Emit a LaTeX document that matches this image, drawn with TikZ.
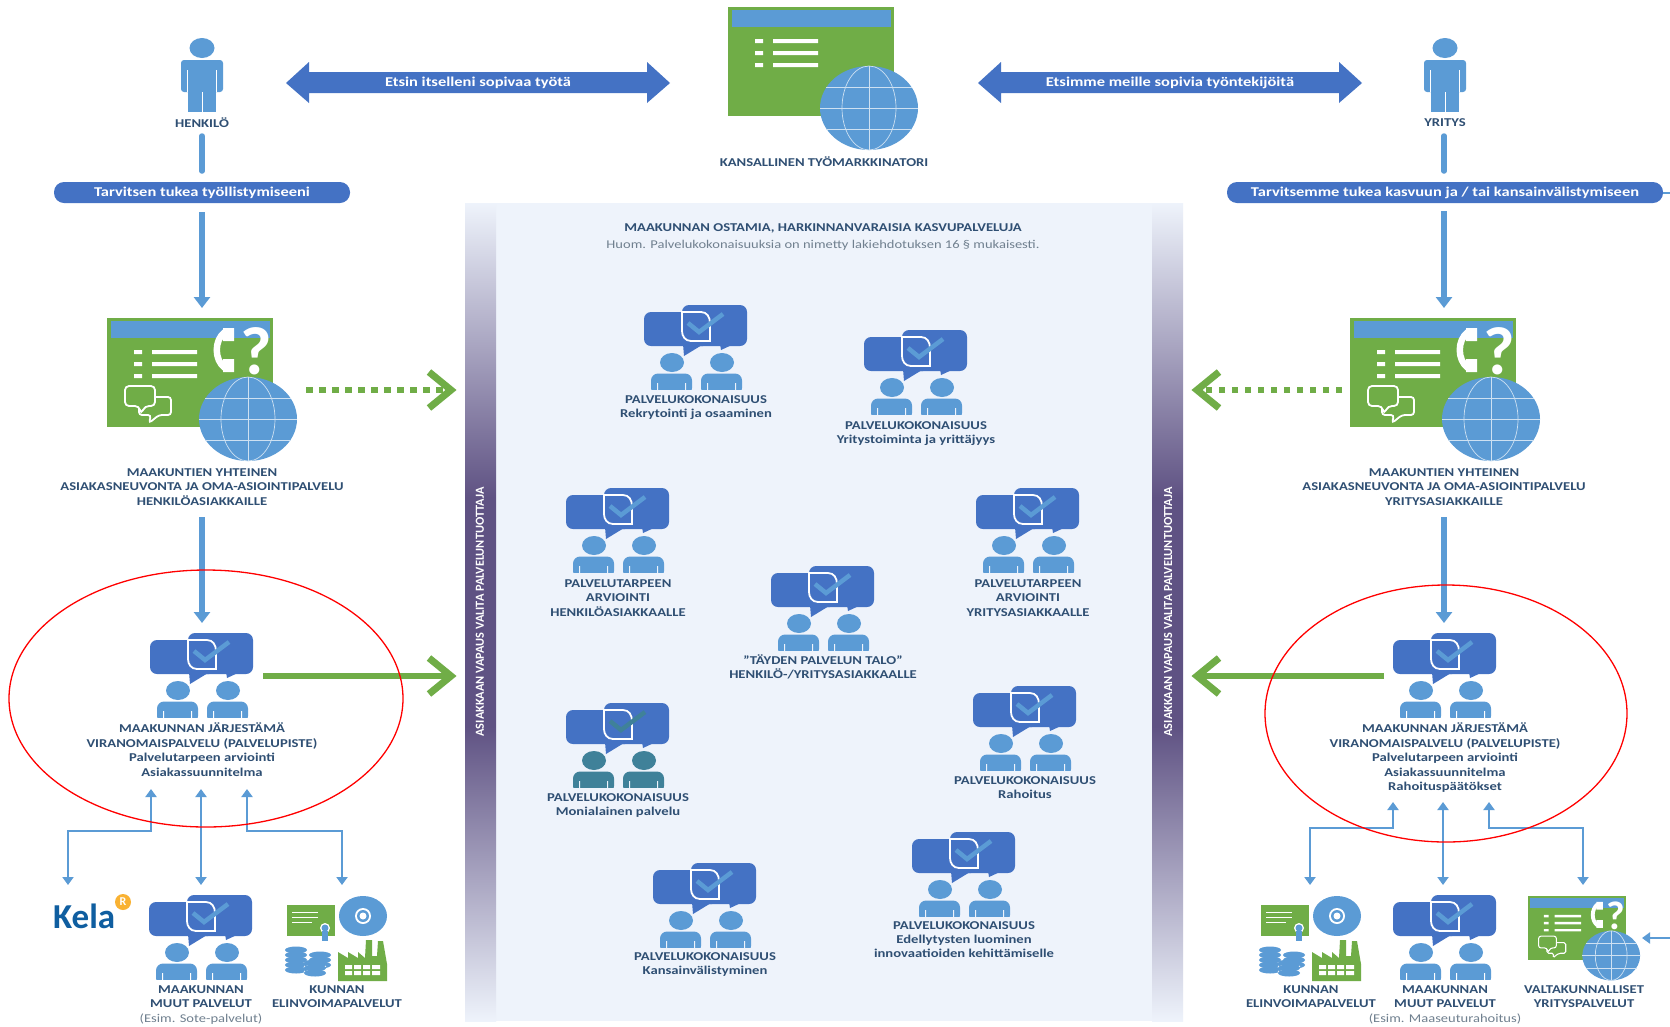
\documentclass[tikz,border=0pt]{standalone}
\usepackage{fontspec}
\setmainfont[FakeStretch=1.22]{Carlito}
\newfontfamily\basefont{Carlito}
\usetikzlibrary{arrows.meta,shapes.geometric,calc}
\definecolor{bluedark}{HTML}{4472C4}
\definecolor{bluelight}{HTML}{5B9BD5}
\definecolor{greenbox}{HTML}{70AD47}
\definecolor{txt}{HTML}{2F4F73}
\definecolor{txtgrey}{HTML}{70808F}
\definecolor{panel}{HTML}{EEF3FB}
\definecolor{purp}{HTML}{5F5283}
\definecolor{bandlight}{HTML}{EEF3FB}
\definecolor{pdark}{HTML}{3F8199}
\definecolor{kelablue}{HTML}{0F5EA0}
\definecolor{kelaorange}{HTML}{F9B233}
\pgfdeclareverticalshading{bandshade}{100bp}{color(0bp)=(bandlight); color(25bp)=(bandlight); color(43bp)=(purp); color(57bp)=(purp); color(75bp)=(bandlight); color(100bp)=(bandlight)}
\tikzset{x=1pt,y=-1pt,
 lab/.style={align=center,text=txt,font=\fontsize{12}{14.4}\selectfont\bfseries,inner sep=0pt,yshift=-2.5pt},
 subl/.style={align=center,text=txtgrey,font=\fontsize{11.9}{14}\selectfont,inner sep=0pt},
 flow/.style={draw=bluelight,line width=5.5pt,-{Triangle[length=11pt,width=16pt]}},
 thin flow/.style={draw=bluelight,line width=2.5pt,-{Triangle[length=8pt,width=11pt]}},
 both flow/.style={draw=bluelight,line width=2.5pt,{Triangle[length=8pt,width=11pt]}-{Triangle[length=8pt,width=11pt]}},
 plainbar/.style={draw=bluelight,line width=5.5pt,line cap=round},
 solidgreen/.style={draw=greenbox,line width=6pt},
 dotgreen/.style={draw=greenbox,line width=6pt,dash pattern=on 6.5pt off 6.5pt},
 chev/.style={draw=greenbox,line width=7pt,miter limit=4},
 pill/.style={fill=bluedark,text=white,rounded corners=10pt,minimum height=21pt,inner sep=0pt,font=\fontsize{13.5}{16}\selectfont\bfseries},
 redring/.style={draw=red,line width=1.3pt},
 bandtext/.style={text=white,rotate=90,font=\basefont\fontsize{12.3}{14}\selectfont\bfseries,inner sep=0pt},
 darrow/.style={fill=bluedark},
 darrowtext/.style={text=white,font=\fontsize{13.5}{16}\selectfont\bfseries,inner sep=0pt},
}
% chat icon: #1 centre x, #2 top y, #3 person colour
\newcommand{\chaticon}[3]{%
\begin{scope}[shift={(#1,#2)}]
 \fill[bluedark,rounded corners=7pt] (-52,7) -- (14,7) -- (14,41) -- (-52,41) -- cycle;
 \fill[bluedark] (-13,39) -- (-12,51) -- (6,40) -- cycle;
 \fill[bluedark,rounded corners=7pt] (-14,0) -- (51,0) -- (51,41) -- (-14,41) -- cycle;
 \fill[bluedark] (24,39) -- (25,45) -- (38,39) -- cycle;
 \draw[white,line width=1.8pt] (-14,7) -- (5,7) .. controls (11,7) and (14,12) .. (14,18) -- (14,36) -- (-5,36) .. controls (-11,36) and (-14,31) .. (-14,26) -- cycle;
 \draw[#3,line width=4.5pt] (-8,18) -- (3,27) -- (27,9);
 \fill[#3] (-24,57.5) circle[x radius=12,y radius=9.5];
 \fill[#3] (26,57.5) circle[x radius=12,y radius=9.5];
 \fill[#3,rounded corners=7pt] (-45,90) -- (-45,68.5) -- (-4,68.5) -- (-4,90) -- cycle;
 \fill[#3,rounded corners=7pt] (5,90) -- (5,68.5) -- (46,68.5) -- (46,90) -- cycle;
 \fill[panelcut] (-45,85) rectangle (-4,91) (5,85) rectangle (46,91);
 \fill[panelcut] (-39,78) rectangle (-38,85) (-11,78) rectangle (-10,85) (11,78) rectangle (12,85) (39,78) rectangle (40,85);
\end{scope}}
% person icon
\newcommand{\personicon}[1]{%
\begin{scope}[shift={(#1,0)}]
 \fill[bluelight] (0,48) circle[x radius=12.5,y radius=10];
 \fill[bluelight,rounded corners=3pt] (-21,92) -- (-21,60) -- (21,60) -- (21,92) -- cycle;
 \fill[bluelight] (-14,80) rectangle (14,112);
 \draw[white,line width=.6pt] (0,92) -- (0,112) (-14.5,70) -- (-14.5,92) (14.5,70) -- (14.5,92);
\end{scope}}
% browser icon: #1 x, #2 y, #3 scale, #4 phone block
\newcommand{\globe}{%
 \fill[bluelight] (141,101) circle[x radius=49,y radius=42];
 \begin{scope}[draw=white!70!bluelight,line width=.7pt]
 \draw (141,59) -- (141,143) (92,101) -- (190,101) (98,80) -- (184,80) (98,122) -- (184,122);
 \draw (141,101) circle[x radius=27,y radius=42];
 \end{scope}}
\newcommand{\browser}[4]{%
\begin{scope}[shift={(#1,#2)},scale=#3]
 \fill[greenbox] (0,0) rectangle (166,109);
 \fill[bluelight] (4,3) rectangle (163,20);
 \fill[white] (27,32) rectangle (35,36) (27,44) rectangle (35,48) (27,56) rectangle (35,60);
 \fill[white] (45,32) rectangle (90,36) (45,44) rectangle (90,48) (45,56) rectangle (90,60);
 #4
 \globe
\end{scope}}
% #1 size of the question mark, #2 line factor
\newcommand{\phonebits}[2]{%
 \draw[white,line width=#2*6.5pt] (118,14) .. controls (107,22) and (107,42) .. (118,50);
 \fill[white] (116,10) rectangle (127,23) (116,41) rectangle (127,54);
 \node[text=white,font=\basefont\fontsize{#1}{#1}\selectfont\bfseries,inner sep=0pt] at (149,33) {?};
 \draw[white,line width=#2*1.8pt,rounded corners=#2*4pt] (18,68) -- (48,68) -- (48,88) -- (38,88) -- (34,96) -- (32,88) -- (18,88) -- cycle;
 \draw[white,line width=#2*1.8pt,rounded corners=#2*3pt] (48,79) -- (64,79) -- (64,97) -- (52,97) -- (42,105) -- (44,97) -- (32,97) -- (32,90);
}
\newcommand{\coinstack}[4]{% x y rx layers
 \foreach \k in {1,...,#4}{
  \fill[bluelight] (#1,#2+5*\k-5) circle[x radius=#3,y radius=3.5];
  \draw[white,line width=.8pt] (#1-#3,#2+5*\k-2) .. controls (#1-#3+3,#2+5*\k+2) and (#1+#3-3,#2+5*\k+2) .. (#1+#3,#2+5*\k-2);
 }}
\newcommand{\cluster}[1]{%
\begin{scope}[shift={(#1,0)}]
 \fill[greenbox] (287,905) rectangle (335,936);
 \draw[white,line width=1pt] (292,912) -- (318,912) (292,917) -- (318,917) (292,922) -- (312,922);
 \fill[white] (325,928) circle[radius=5];
 \fill[bluelight] (325,928) circle[radius=3.5];
 \fill[bluelight] (322,931) rectangle (328,941);
 \fill[bluelight] (363,916) circle[x radius=24,y radius=20];
 \fill[white] (363,916) circle[radius=8];
 \fill[bluelight] (363,916) circle[radius=6];
 \fill[white] (363,916) circle[radius=3.5];
 \coinstack{296}{950}{11}{5}
 \coinstack{320}{955}{11}{3}
 \coinstack{315}{963}{11}{3}
 \fill[greenbox] (338,981) -- (338,952) -- (348,958) -- (348,952) -- (358,958) -- (358,952) -- (365,958) -- (366,940) -- (372,940) -- (372,956) -- (377,956) -- (378,941) -- (383,941) -- (387,964) -- (387,981) -- cycle;
 \fill[white] (345,965) rectangle (352,969) (354,965) rectangle (361,969) (363,965) rectangle (370,969) (372,965) rectangle (380,969);
 \fill[white] (345,971) rectangle (352,975) (354,971) rectangle (361,975) (363,971) rectangle (370,975) (372,971) rectangle (380,975);
\end{scope}}
\colorlet{panelcut}{white}
\begin{document}
\begin{tikzpicture}
\useasboundingbox (0,0) rectangle (1670,1026);
\fill[white] (0,0) rectangle (1670,1026);
% panel
\fill[panel] (465,203) rectangle (1183,1021);
\shade[shading=bandshade] (465,203) rectangle (496,1021);
\shade[shading=bandshade] (1152,203) rectangle (1183,1021);
\node[bandtext] (bandL) at (480,612) {ASIAKKAAN VAPAUS VALITA PALVELUNTUOTTAJA};
\node[bandtext] (bandR) at (1168,612) {ASIAKKAAN VAPAUS VALITA PALVELUNTUOTTAJA};
\node[lab] (ptitle) at (823,226) {MAAKUNNAN OSTAMIA, HARKINNANVARAISIA KASVUPALVELUJA};
\node[subl] (psub) at (823,245) {Huom. Palvelukokonaisuuksia on nimetty lakiehdotuksen 16 § mukaisesti.};
% top row
\personicon{202}
\personicon{1445}
\node[lab] (henkilo) at (202,120) {HENKILÖ};
\node[lab] (yritys) at (1445,120) {YRITYS};
\browser{728}{7}{1}{}
\node[lab] (kans) at (824,159) {KANSALLINEN TYÖMARKKINATORI};
\fill[darrow] (286,83) -- (309,62) -- (309,72) -- (647,72) -- (647,62) -- (670,83) -- (647,103) -- (647,93) -- (309,93) -- (309,103) -- cycle;
\node[darrowtext] (etsin) at (478,83) {Etsin itselleni sopivaa työtä};
\fill[darrow] (978,83) -- (1001,62) -- (1001,72) -- (1339,72) -- (1339,62) -- (1362,83) -- (1339,103) -- (1339,93) -- (1001,93) -- (1001,103) -- cycle;
\node[darrowtext] (etsimme) at (1170,83) {Etsimme meille sopivia työntekijöitä};
% pills and column links
\node[pill,minimum width=296pt] (pillL) at (202,192.5) {Tarvitsen tukea työllistymiseeni};
\node[pill,minimum width=436pt] (pillR) at (1445,192.5) {Tarvitsemme tukea kasvuun ja / tai  kansainvälistymiseen};
\coordinate (edgeR) at (1670,192.5);
\draw[draw=bluelight,line width=2pt] (pillR.east) -- (edgeR);
\coordinate (hA) at (202,136); \coordinate (hB) at (202,171);
\coordinate (yA) at (1444,136); \coordinate (yB) at (1444,171);
\draw[plainbar] (hA) -- (hB);
\draw[plainbar] (yA) -- (yB);
\coordinate (lA) at (202,212); \coordinate (rA) at (1444,211);
\coordinate (brL) at (202,308); \coordinate (brR) at (1444,308);
\draw[flow] (lA) -- (brL);
\draw[flow] (rA) -- (brR);
% browsers
\browser{107}{318}{1}{\phonebits{68}{1}}
\browser{1350}{318}{1}{\phonebits{68}{1}}
\node[lab] (bl) at (202,484.5) {MAAKUNTIEN YHTEINEN\\ASIAKASNEUVONTA JA OMA-ASIOINTIPALVELU\\HENKILÖASIAKKAILLE};
\node[lab] (br) at (1444,484.5) {MAAKUNTIEN YHTEINEN\\ASIAKASNEUVONTA JA OMA-ASIOINTIPALVELU\\YRITYSASIAKKAILLE};
\coordinate (blA) at (202,517); \coordinate (blB) at (202,623);
\coordinate (brA) at (1444,517); \coordinate (brB) at (1444,623);
\draw[flow] (blA) -- (blB);
\draw[flow] (brA) -- (brB);
% green arrows
\coordinate (gdL1) at (306,390); \coordinate (gdL2) at (448,390);
\coordinate (gdR1) at (1342,390); \coordinate (gdR2) at (1199,390);
\coordinate (gsL1) at (263,676); \coordinate (gsL2) at (450,676);
\coordinate (gsR1) at (1384,676); \coordinate (gsR2) at (1199,676);
\draw[dotgreen] (gdL1) -- (gdL2);
\draw[dotgreen] (gdR1) -- (gdR2);
\draw[solidgreen] (gsL1) -- (gsL2);
\draw[solidgreen] (gsR1) -- (gsR2);
\draw[chev] (429,372) -- (451,390) -- (429,408);
\draw[chev] (1219,372) -- (1197,390) -- (1219,408);
\draw[chev] (429,658) -- (451,676) -- (429,694);
\draw[chev] (1219,658) -- (1197,676) -- (1219,694);
% services
\chaticon{202}{633}{bluelight}
\chaticon{1445}{633}{bluelight}
\node[lab,anchor=north] (svL) at (202,720.5) {MAAKUNNAN JÄRJESTÄMÄ\\VIRANOMAISPALVELU (PALVELUPISTE)\\Palvelutarpeen arviointi\\Asiakassuunnitelma};
\node[lab,anchor=north] (svR) at (1445,720.5) {MAAKUNNAN JÄRJESTÄMÄ\\VIRANOMAISPALVELU (PALVELUPISTE)\\Palvelutarpeen arviointi\\Asiakassuunnitelma\\Rahoituspäätökset};
% bottom left
\coordinate (u1) at (151,789); \coordinate (u2) at (201,789); \coordinate (u3) at (247,789);
\coordinate (d1) at (68,885); \coordinate (d2) at (201,885); \coordinate (d3) at (342,885);
\draw[both flow] (u1) |- (68,831) -- (d1);
\draw[both flow] (u2) -- (d2);
\draw[both flow] (u3) |- (342,831) -- (d3);
\coordinate (v1) at (1393,802); \coordinate (v2) at (1443,802); \coordinate (v3) at (1489,802);
\coordinate (e1) at (1310,885); \coordinate (e2) at (1443,885); \coordinate (e3) at (1583,885);
\draw[both flow] (v1) |- (1310,828) -- (e1);
\draw[both flow] (v2) -- (e2);
\draw[both flow] (v3) |- (1583,828) -- (e3);
\node[text=kelablue,font=\basefont\fontsize{35}{35}\selectfont\bfseries,inner sep=0pt,anchor=west] (kela) at (53,916) {Kela};
\node[circle,fill=kelaorange,text=white,minimum size=16pt,inner sep=0pt,font=\basefont\fontsize{12}{12}\selectfont\bfseries] (kelar) at (123,902) {R};
\chaticon{201}{895}{bluelight}
\node[lab,anchor=north] (ml) at (201,983) {MAAKUNNAN\\MUUT PALVELUT};
\node[subl] (mle) at (201,1019) {(Esim. Sote-palvelut)};
\cluster{0}
\node[lab,anchor=north] (kl) at (337,983) {KUNNAN\\ELINVOIMAPALVELUT};
% bottom right
\cluster{974}
\node[lab,anchor=north] (kr) at (1311,983) {KUNNAN\\ELINVOIMAPALVELUT};
\chaticon{1445}{895}{bluelight}
\node[lab,anchor=north] (mr) at (1445,983) {MAAKUNNAN\\MUUT PALVELUT};
\node[subl] (mre) at (1445,1019) {(Esim. Maaseuturahoitus)};
\browser{1528}{896}{.59}{\phonebits{40}{.59}}
\node[lab,anchor=north] (vr) at (1584,983) {VALTAKUNNALLISET\\YRITYSPALVELUT};
\coordinate (natA) at (1670,938); \coordinate (natB) at (1642,938);
\draw[thin flow] (natA) -- (natB);
% centre icons: the cuts in the figures take the panel's colour
\colorlet{panelcut}{panel}
\chaticon{696}{305}{bluelight}
\node[lab,anchor=north] (c1) at (696,393) {PALVELUKOKONAISUUS\\Rekrytointi ja osaaminen};
\chaticon{916}{330}{bluelight}
\node[lab,anchor=north] (c2) at (916,419) {PALVELUKOKONAISUUS\\Yritystoiminta ja yrittäjyys};
\chaticon{618}{488}{bluelight}
\node[lab,anchor=north] (c3) at (618,577) {PALVELUTARPEEN\\ARVIOINTI\\HENKILÖASIAKKAALLE};
\chaticon{1028}{488}{bluelight}
\node[lab,anchor=north] (c4) at (1028,577) {PALVELUTARPEEN\\ARVIOINTI\\YRITYSASIAKKAALLE};
\chaticon{823}{566}{bluelight}
\node[lab,anchor=north] (c5) at (823,652) {"TÄYDEN PALVELUN TALO"\\HENKILÖ-/YRITYSASIAKKAALLE};
\chaticon{618}{703}{pdark}
\node[lab,anchor=north] (c6) at (618,790.5) {PALVELUKOKONAISUUS\\Monialainen palvelu};
\chaticon{1025}{686}{bluelight}
\node[lab,anchor=north] (c7) at (1025,773.5) {PALVELUKOKONAISUUS\\Rahoitus};
\chaticon{964}{832}{bluelight}
\node[lab,anchor=north] (c8) at (964,918.5) {PALVELUKOKONAISUUS\\Edellytysten luominen\\innovaatioiden kehittämiselle};
\chaticon{705}{863}{bluelight}
\node[lab,anchor=north] (c9) at (705,950) {PALVELUKOKONAISUUS\\Kansainvälistyminen};
% red rings
\draw[redring] (206,698.5) circle[x radius=197,y radius=128.5];
\draw[redring] (1446,713.5) circle[x radius=181,y radius=128.5];
\end{tikzpicture}
\end{document}
